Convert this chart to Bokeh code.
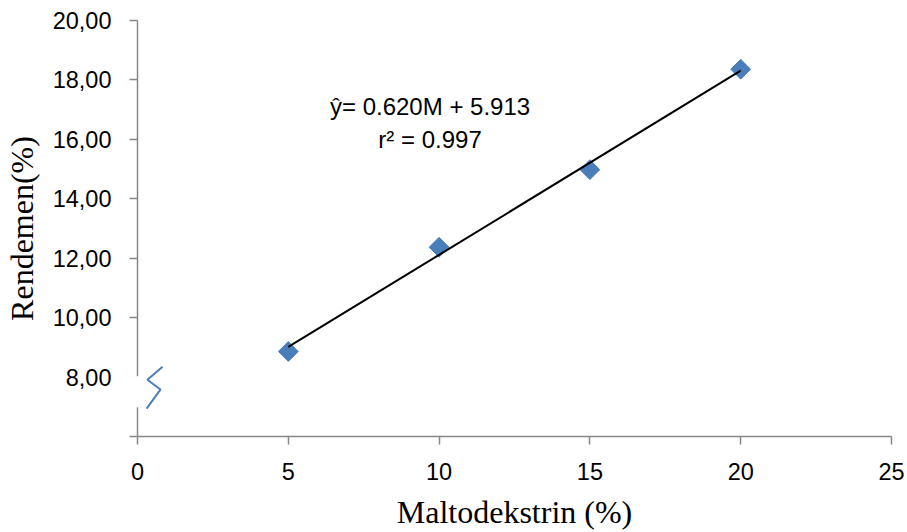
import numpy as np
from bokeh.plotting import figure
from bokeh.models import FixedTicker, Range1d
from bokeh.core.properties import value
from bokeh.embed import file_html
from bokeh.resources import INLINE

# ---- data ----
maltodekstrin = [5, 10, 15, 20]
rendemen = [8.86, 12.37, 14.98, 18.36]
slope = 0.620
intercept = 5.913
eq_line1 = "ŷ= 0.620M + 5.913"
eq_line2 = "r² = 0.997"
x_ticks = [0, 5, 10, 15, 20, 25]
y_ticks = [6, 8, 10, 12, 14, 16, 18, 20]
y_tick_labels = ["", "8,00", "10,00", "12,00", "14,00", "16,00", "18,00", "20,00"]
break_x = [0.83, 0.33, 0.76, 0.30]
break_y = [8.35, 7.91, 7.58, 6.94]
gap_y = [6.98, 8.03]

AXIS = "#878787"
BLUE = "#4a7ebb"

W, H = 905, 532
p = figure(width=W, height=H, output_backend="svg", toolbar_location=None,
           x_range=Range1d(0, 25), y_range=Range1d(6, 20),
           min_border_left=137, min_border_right=W - 891, min_border_top=20,
           min_border_bottom=H - 438)
p.outline_line_color = None
p.xgrid.grid_line_color = None
p.ygrid.grid_line_color = None

for ax in (p.xaxis[0], p.yaxis[0]):
    ax.axis_line_color = AXIS
    ax.axis_line_width = 1.5
    ax.major_tick_line_color = AXIS
    ax.major_tick_line_width = 1.5
    ax.major_tick_in = 0
    ax.major_tick_out = 8
    ax.minor_tick_line_color = None
    ax.major_label_text_font = "Liberation Sans"
    ax.major_label_text_font_size = "23.5px"
    ax.major_label_text_color = "black"
    ax.axis_label_text_font = "Liberation Serif"
    ax.axis_label_text_font_size = "32px"
    ax.axis_label_text_font_style = "normal"
    ax.axis_label_text_color = "black"

p.xaxis.ticker = FixedTicker(ticks=x_ticks)
p.yaxis.ticker = FixedTicker(ticks=y_ticks)
p.yaxis.major_label_overrides = {t: l for t, l in zip(y_ticks, y_tick_labels)}
p.xaxis.axis_label = "Maltodekstrin (%)"
p.yaxis.axis_label = "Rendemen(%)"
p.xaxis.major_label_standoff = 18
p.xaxis.axis_label_standoff = 11
p.yaxis.major_label_standoff = 18
p.yaxis.axis_label_standoff = 10

# data points
p.scatter(maltodekstrin, rendemen, marker="square", size=14, angle=np.pi / 4,
          fill_color=BLUE, line_color=BLUE)

# trend line
tx = np.array([min(maltodekstrin), max(maltodekstrin)], dtype=float)
ty = slope * tx + intercept
p.line(tx, ty, line_color="black", line_width=2)

# equation text
p.text(x=[9.7], y=[17.09], text=[eq_line1], text_align="center", text_baseline="middle",
       text_font=value("Liberation Sans"), text_font_size="24px", text_color="black")
p.text(x=[9.7], y=[16.01], text=[eq_line2], text_align="center", text_baseline="middle",
       text_font=value("Liberation Sans"), text_font_size="24px", text_color="black")

# axis break: white gap over axis line and zigzag
p.quad(left=[-0.5], right=[0.2], bottom=[gap_y[0]], top=[gap_y[1]],
       fill_color="white", line_color=None, level="overlay")
p.line(break_x, break_y, line_color=BLUE, line_width=2)

open("out.html", "w").write(file_html(p, INLINE))
